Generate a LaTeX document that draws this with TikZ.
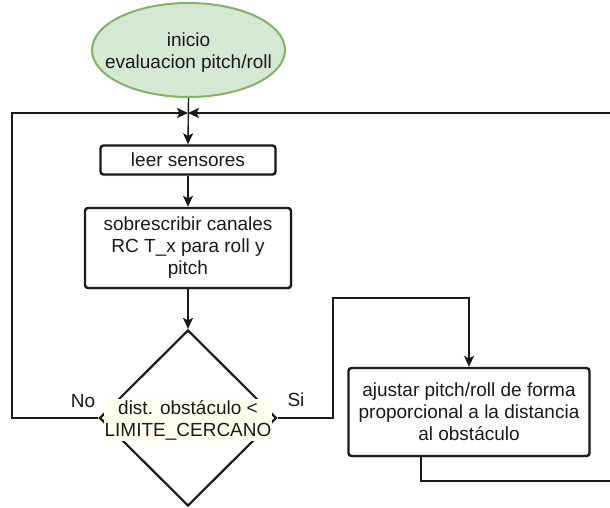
\documentclass[tikz,border=0pt]{standalone}
\usepackage{fontspec}
\setmainfont{Liberation Sans}
\usetikzlibrary{shapes.geometric,arrows.meta,shadows}

\definecolor{startfill}{HTML}{D5E8D4}
\definecolor{startline}{HTML}{82B366}
\definecolor{ink}{HTML}{1A1A1A}
\definecolor{labelbg}{HTML}{FFFFF0}

\tikzset{
  txt/.style={font=\fontsize{19}{22}\selectfont, text=ink, align=center},
  startnode/.style={ellipse, draw=startline, fill=startfill, line width=2pt,
    inner sep=0pt},
  procbox/.style={txt, rectangle, rounded corners=3pt, draw=ink, fill=white,
    line width=2.4pt, inner sep=0pt,
    drop shadow={shadow xshift=1.5pt, shadow yshift=-1.5pt, opacity=0.2}},
  decision/.style={diamond, draw=ink, fill=white, line width=2.2pt, inner sep=0pt},
  condlabel/.style={txt, fill=labelbg, inner sep=1pt},
  branch/.style={txt, inner sep=0pt},
  flow/.style={draw=ink, line width=1.4pt,
    -{Stealth[length=11pt,width=10pt,inset=2.5pt]}},
}

\begin{document}
\begin{tikzpicture}[x=1pt,y=-1pt]
  \useasboundingbox (0,0) rectangle (610,508);
  \clip (0,0) rectangle (610,508);
  \fill[white] (0,0) rectangle (610,508);

  % shapes
  \node[startnode, minimum width=193pt, minimum height=94pt,
        label={[txt, yshift=-3pt]center:{inicio\\evaluacion pitch/roll}}]
        (start) at (188.5,50) {};
  \node[procbox, minimum width=175pt, minimum height=29pt] (leer) at (188,160)
    {leer sensores};
  \node[procbox, minimum width=206pt, minimum height=80pt] (proc) at (188,248)
    {sobrescribir canales\\RC T\_x para roll y\\pitch};
  \node[decision, minimum width=177pt, minimum height=176pt] (dec) at (188,418) {};
  \node[condlabel] (cond) at (188,420) {dist. obstáculo <\\LIMITE\_CERCANO};
  \node[procbox, minimum width=241pt, minimum height=88pt] (adj) at (469,412)
    {ajustar pitch/roll de forma\\proporcional a la distancia\\al obstáculo};

  % branch labels
  \node[branch] (no) at (83,401) {No};
  \node[branch] (si) at (296,400) {Si};

  % routing points
  \coordinate (merge) at (188,113);
  \coordinate (leftc) at (12,113);
  \coordinate (sic) at (333,298);
  \coordinate (botr) at (625,481);
  \coordinate (topr) at (625,113);

  % connectors
  \draw[flow] (start.south) -- (leer.north);
  \draw[flow] (leer.south) -- (proc.north);
  \draw[flow] (proc.south) -- (dec.north);
  \draw[flow] (dec.west) -| (leftc) -- (merge);
  \draw[flow] (dec.east) -| (sic) -| (adj.north);
  \draw[flow] ([xshift=-48pt]adj.south) |- (botr) -- (topr) -- (merge);

  % condition text stays on top of the diamond outline
  \node[condlabel] at (cond) {dist. obstáculo <\\LIMITE\_CERCANO};
\end{tikzpicture}
\end{document}
